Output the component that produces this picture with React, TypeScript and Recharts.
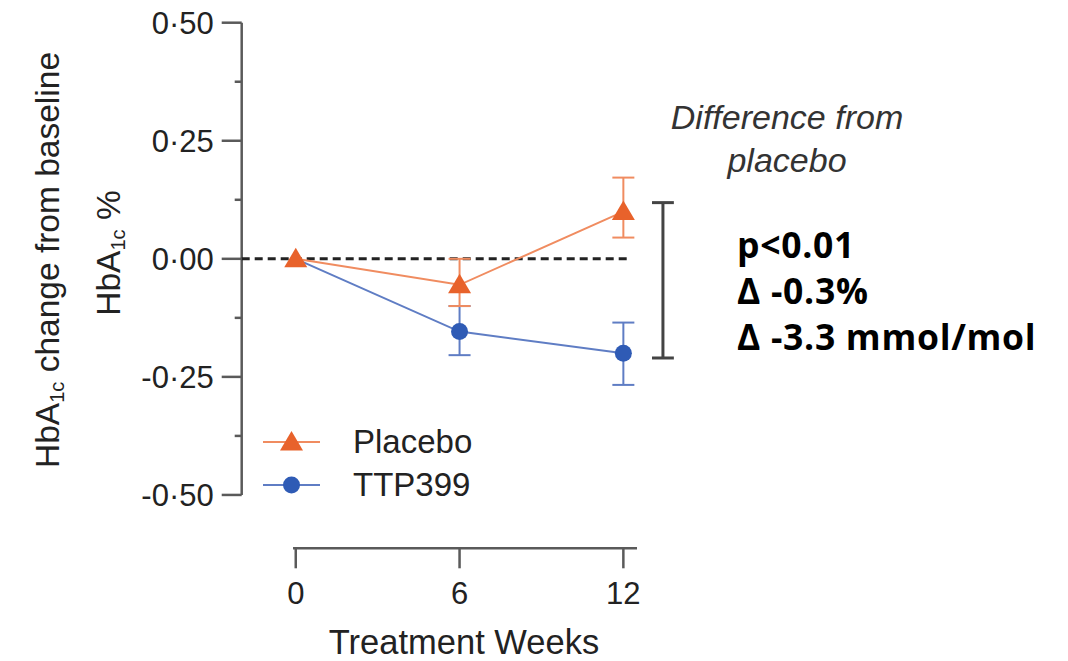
import React from 'react';
import { ComposedChart, Line, XAxis, YAxis, ErrorBar, ReferenceLine, Legend } from 'recharts';

// values (HbA1c change from baseline, %)
const weeks = [0, 6, 12];
const placeboMean = [0, -0.055, 0.1];
const placeboLow = [null, -0.1, 0.045];
const placeboHigh = [null, 0.0, 0.172];
const ttpMean = [0, -0.154, -0.2];
const ttpLow = [null, -0.204, -0.267];
const ttpHigh = [null, -0.1, -0.135];

const yMajorTicks = [-0.5, -0.25, 0, 0.25, 0.5];
const yMinorTicks = [-0.375, -0.125, 0.125, 0.375];
const xTicks = [0, 6, 12];

// difference bracket (between the two week-12 means)
const bracketWeek = 13.45;
const bracketTop = 0.119;
const bracketBottom = -0.21;

const seriesNames = ['Placebo', 'TTP399'];
const noteLines = ['p<0.01', 'Δ -0.3%', 'Δ -3.3 mmol/mol'];

const X_DOMAIN: [number, number] = [-1.98, 15.54];
const Y_DOMAIN: [number, number] = [-0.613, 0.5];

const ORANGE = '#E8622B';
const ORANGE_LINE = '#F08C60';
const BLUE = '#2F5BB5';
const BLUE_LINE = '#5F7DC4';
const AXIS = '#5a5a5a';
const TEXT = '#222';
const FONT = '"Liberation Sans", Arial, sans-serif';

const errOf = (m: number, lo: number | null, hi: number | null) =>
  lo == null || hi == null ? null : [m - lo, hi - m];

const data = weeks.map((w, i) => ({
  week: w,
  placebo: placeboMean[i],
  placeboErr: errOf(placeboMean[i], placeboLow[i], placeboHigh[i]),
  ttp: ttpMean[i],
  ttpErr: errOf(ttpMean[i], ttpLow[i], ttpHigh[i]),
}));

const fmtY = (v: number) => v.toFixed(2).replace('.', '·');

const YTick = (props: any) => {
  const { x, y, payload } = props;
  const major = yMajorTicks.includes(payload.value);
  const len = major ? 20 : 7;
  return (
    <g>
      <line x1={x - len} x2={x} y1={y} y2={y} stroke={AXIS} strokeWidth={2.5} />
      {major && (
        <text x={x - 28} y={y} dy="0.36em" textAnchor="end" fill={TEXT} fontSize={31} fontFamily={FONT}>
          {fmtY(payload.value)}
        </text>
      )}
    </g>
  );
};

const Triangle = (props: any) => {
  const { cx, cy, index } = props;
  if (cx == null || cy == null) return null;
  return (
    <polygon
      key={`tri-${index}`}
      points={`${cx},${cy - 11} ${cx + 11.5},${cy + 8.5} ${cx - 11.5},${cy + 8.5}`}
      fill={ORANGE}
    />
  );
};

// circle is hidden where it sits right under the placebo triangle (week 0)
const Dot = (props: any) => {
  const { cx, cy, index } = props;
  if (cx == null || cy == null) return null;
  if (ttpMean[index] === placeboMean[index]) return <g key={`dot-${index}`} />;
  return <circle key={`dot-${index}`} cx={cx} cy={cy} r={8.5} fill={BLUE} />;
};

const LegendContent = () => (
  <div style={{ fontFamily: FONT, fontSize: 33, color: TEXT }}>
    {seriesNames.map((name, i) => (
      <div key={name} style={{ display: 'flex', alignItems: 'center', height: 43 }}>
        <svg width={60} height={30} style={{ marginRight: 31 }}>
          <line x1={1} x2={58} y1={15} y2={15} stroke={i === 0 ? ORANGE_LINE : BLUE_LINE} strokeWidth={2} />
          {i === 0 ? (
            <polygon points="29.5,4 41,23.5 18,23.5" fill={ORANGE} />
          ) : (
            <circle cx={29.5} cy={15} r={8.5} fill={BLUE} />
          )}
        </svg>
        <span style={{ lineHeight: 1 }}>{name}</span>
      </div>
    ))}
  </div>
);

export default function App() {
  return (
    <div style={{ position: 'absolute', left: 0, top: 0, width: 1068, height: 661, background: '#fff', fontFamily: FONT }}>
      <ComposedChart
        width={1068}
        height={661}
        data={data}
        margin={{ top: 22.7, right: 348, bottom: 52.7, left: 161.7 }}
      >
        <XAxis
          dataKey="week"
          type="number"
          domain={X_DOMAIN}
          allowDataOverflow
          ticks={xTicks}
          interval={0}
          axisLine={false}
          tickLine={{ stroke: AXIS, strokeWidth: 2.5 }}
          tickSize={20}
          tickMargin={14}
          height={60}
          tick={{ fill: TEXT, fontSize: 31, fontFamily: FONT }}
        />
        <YAxis
          type="number"
          domain={Y_DOMAIN}
          allowDataOverflow
          ticks={[...yMajorTicks, ...yMinorTicks]}
          interval={0}
          width={80}
          axisLine={false}
          tickLine={false}
          tickSize={0}
          tickMargin={0}
          tick={<YTick />}
        />
        {/* y axis line, stops at -0.50 */}
        <ReferenceLine
          segment={[{ x: X_DOMAIN[0], y: yMajorTicks[0] }, { x: X_DOMAIN[0], y: yMajorTicks[4] }]}
          stroke={AXIS}
          strokeWidth={2.5}
          ifOverflow="visible"
        />
        {/* offset x axis line */}
        <ReferenceLine
          segment={[{ x: -0.1, y: Y_DOMAIN[0] }, { x: 12.5, y: Y_DOMAIN[0] }]}
          stroke={AXIS}
          strokeWidth={2.5}
          ifOverflow="visible"
        />
        <ReferenceLine
          segment={[{ x: X_DOMAIN[0], y: 0 }, { x: 12.25, y: 0 }]}
          stroke="#222"
          strokeWidth={3}
          strokeDasharray="8 5"
        />
        {/* difference bracket */}
        <ReferenceLine segment={[{ x: bracketWeek, y: bracketTop }, { x: bracketWeek, y: bracketBottom }]} stroke="#444" strokeWidth={3} />
        <ReferenceLine segment={[{ x: bracketWeek - 0.4, y: bracketTop }, { x: bracketWeek + 0.4, y: bracketTop }]} stroke="#444" strokeWidth={3} />
        <ReferenceLine segment={[{ x: bracketWeek - 0.4, y: bracketBottom }, { x: bracketWeek + 0.4, y: bracketBottom }]} stroke="#444" strokeWidth={3} />

        <Line
          dataKey="ttp"
          name="TTP399"
          stroke={BLUE_LINE}
          strokeWidth={2}
          dot={<Dot />}
          isAnimationActive={false}
        >
          <ErrorBar dataKey="ttpErr" direction="y" width={11} stroke={BLUE_LINE} strokeWidth={2} isAnimationActive={false} />
        </Line>
        <Line
          dataKey="placebo"
          name="Placebo"
          stroke={ORANGE_LINE}
          strokeWidth={2}
          dot={<Triangle />}
          isAnimationActive={false}
        >
          <ErrorBar dataKey="placeboErr" direction="y" width={11} stroke={ORANGE_LINE} strokeWidth={2} isAnimationActive={false} />
        </Line>
        <Legend
          layout="vertical"
          align="center"
          verticalAlign="middle"
          content={<LegendContent />}
          wrapperStyle={{ left: 262, top: 420, width: 260 }}
        />
      </ComposedChart>

      {/* axis titles */}
      <div
        style={{
          position: 'absolute', left: 49, top: 260, transform: 'translate(-50%, -50%) rotate(-90deg)',
          whiteSpace: 'nowrap', fontSize: 33.5, lineHeight: 1, color: TEXT,
        }}
      >
        HbA<sub style={{ fontSize: '0.6em', verticalAlign: '-0.25em' }}>1c</sub> change from baseline
      </div>
      <div
        style={{
          position: 'absolute', left: 110, top: 253, transform: 'translate(-50%, -50%) rotate(-90deg)',
          whiteSpace: 'nowrap', fontSize: 33.5, lineHeight: 1, color: TEXT,
        }}
      >
        HbA<sub style={{ fontSize: '0.6em', verticalAlign: '-0.25em' }}>1c</sub> %
      </div>
      <div
        style={{
          position: 'absolute', left: 464, top: 642, transform: 'translate(-50%, -50%)',
          whiteSpace: 'nowrap', fontSize: 34.5, lineHeight: 1, color: TEXT,
        }}
      >
        Treatment Weeks
      </div>

      {/* annotations */}
      <div
        style={{
          position: 'absolute', left: 787, top: 96, transform: 'translateX(-50%)', textAlign: 'center',
          whiteSpace: 'nowrap', fontSize: 34, lineHeight: '43px', fontStyle: 'italic', color: '#333',
        }}
      >
        Difference from
        <br />
        placebo
      </div>
      <div
        style={{
          position: 'absolute', left: 737, top: 221, whiteSpace: 'nowrap',
          fontFamily: '"Open Sans", sans-serif', fontWeight: 700, fontSize: 35.5, letterSpacing: 0.7,
          lineHeight: '46px', color: '#000',
        }}
      >
        {noteLines.map((t) => (
          <div key={t}>{t}</div>
        ))}
      </div>
    </div>
  );
}
